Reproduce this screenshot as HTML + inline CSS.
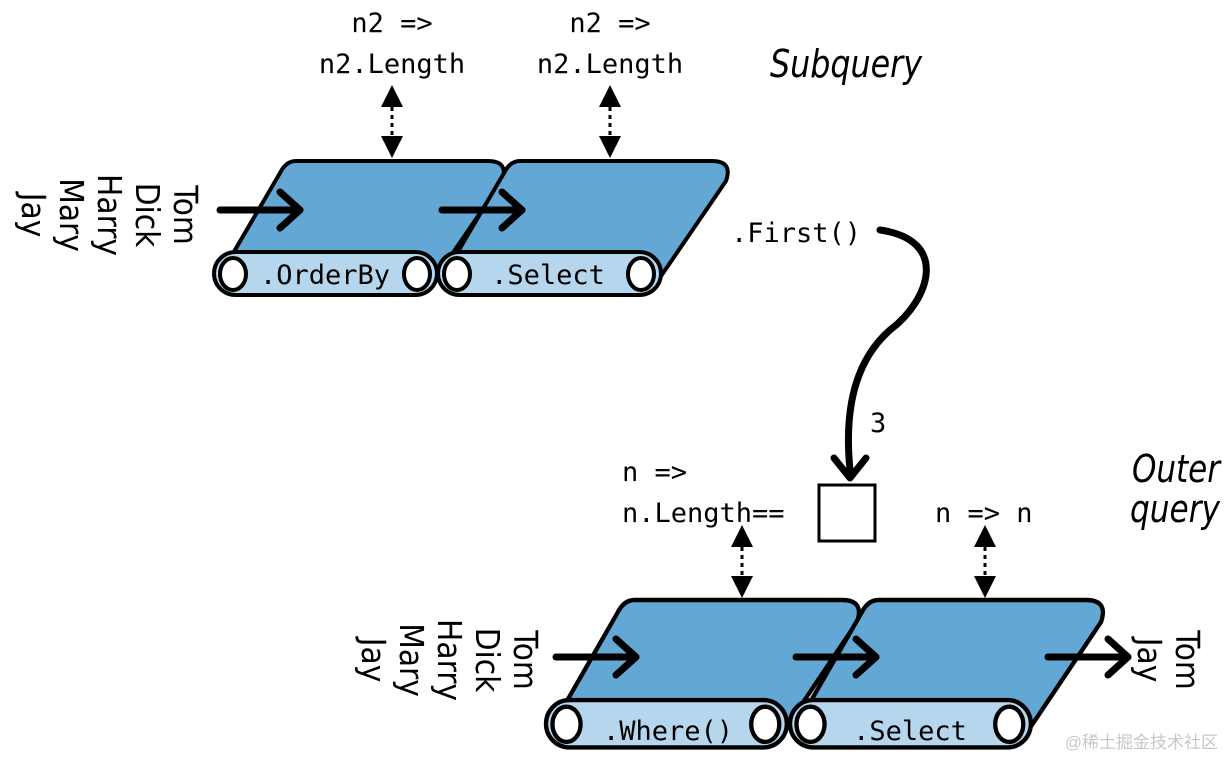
<!DOCTYPE html>
<html><head><meta charset="utf-8"><style>
html,body{margin:0;padding:0;background:#fff;width:1224px;height:757px;overflow:hidden}
.m{font-family:"DejaVu Sans Mono","Liberation Mono",monospace;font-size:27px}
.n{font-family:"DejaVu Sans Condensed","Liberation Sans Narrow","Liberation Sans",sans-serif;font-size:33px}
.i{font-family:"DejaVu Sans Condensed","Liberation Sans",sans-serif;font-style:italic;font-size:38px}
</style></head><body>
<svg width="1224" height="757" viewBox="0 0 1224 757" xmlns="http://www.w3.org/2000/svg">
<defs>
<g id="conv">
<path d="M82,0 H274 Q295,0 288,20 L221,118 L4,118 L66,12 Q72,0 82,0 Z" fill="#63a7d4" stroke="#000" stroke-width="4" stroke-linejoin="round"/>
<rect x="0" y="91" width="223" height="43" rx="21.5" fill="#b5d6ec" stroke="#000" stroke-width="4"/>
<ellipse cx="19" cy="113" rx="13" ry="16" fill="#fff" stroke="#000" stroke-width="4"/>
<ellipse cx="203" cy="113" rx="13" ry="16" fill="#fff" stroke="#000" stroke-width="4"/>
</g>
<g id="arr">
<line x1="0" y1="0" x2="80" y2="0" stroke="#000" stroke-width="7" stroke-linecap="round"/>
<polyline points="60,-18 80,0 60,18" fill="none" stroke="#000" stroke-width="7" stroke-linecap="round" stroke-linejoin="round"/>
</g>
<g id="dbl">
<polygon points="0,0 -11,22 11,22" fill="#000"/>
<line x1="0" y1="22" x2="0" y2="52" stroke="#000" stroke-width="3" stroke-dasharray="4,4"/>
<polygon points="0,73 -11,51 11,51" fill="#000"/>
</g>
</defs>

<use href="#conv" transform="translate(214,161)"/>
<use href="#conv" transform="translate(438,161)"/>
<text class="m" x="325" y="284" text-anchor="middle">.OrderBy</text>
<text class="m" x="548" y="284" text-anchor="middle">.Select</text>
<use href="#arr" transform="translate(220,210)"/>
<use href="#arr" transform="translate(442,210)"/>
<use href="#dbl" transform="translate(392,85)"/>
<use href="#dbl" transform="translate(610,85)"/>
<text class="m" x="392" y="32" text-anchor="middle">n2 =&gt;</text>
<text class="m" x="392" y="73" text-anchor="middle">n2.Length</text>
<text class="m" x="610" y="32" text-anchor="middle">n2 =&gt;</text>
<text class="m" x="610" y="73" text-anchor="middle">n2.Length</text>
<text class="i" x="770" y="77" textLength="152" lengthAdjust="spacingAndGlyphs">Subquery</text>

<g class="n">
<text transform="translate(174,215) rotate(90)" text-anchor="middle">Tom</text>
<text transform="translate(136,215) rotate(90)" text-anchor="middle">Dick</text>
<text transform="translate(98,215) rotate(90)" text-anchor="middle">Harry</text>
<text transform="translate(60,215) rotate(90)" text-anchor="middle">Mary</text>
<text transform="translate(22,215) rotate(90)" text-anchor="middle">Jay</text>
</g>

<text class="m" x="731" y="242">.First()</text>
<path d="M880,230 C950,240 930,300 890,330 C850,365 845,420 850,470" fill="none" stroke="#000" stroke-width="7" stroke-linecap="round"/>
<polyline points="834,458 850,478 866,458" fill="none" stroke="#000" stroke-width="7" stroke-linecap="round" stroke-linejoin="round"/>
<text class="m" x="870" y="432">3</text>
<rect x="819" y="485" width="56" height="56" fill="#fff" stroke="#000" stroke-width="3"/>
<text class="m" x="622" y="481">n =&gt;</text>
<text class="m" x="622" y="522">n.Length==</text>
<text class="m" x="935" y="522">n =&gt; n</text>
<text class="i" x="1220" y="482" text-anchor="end" textLength="88" lengthAdjust="spacingAndGlyphs">Outer</text>
<text class="i" x="1220" y="522" text-anchor="end" textLength="90" lengthAdjust="spacingAndGlyphs">query</text>

<use href="#conv" transform="translate(546,600) scale(1.08,1.1)"/>
<use href="#conv" transform="translate(790,600) scale(1.08,1.1)"/>
<text class="m" x="668" y="740" text-anchor="middle">.Where()</text>
<text class="m" x="910" y="740" text-anchor="middle">.Select</text>
<use href="#arr" transform="translate(556,657)"/>
<use href="#arr" transform="translate(796,657)"/>
<use href="#arr" transform="translate(1048,657)"/>
<use href="#dbl" transform="translate(742,525)"/>
<use href="#dbl" transform="translate(985,525)"/>

<g class="n">
<text transform="translate(514,660) rotate(90)" text-anchor="middle">Tom</text>
<text transform="translate(476,660) rotate(90)" text-anchor="middle">Dick</text>
<text transform="translate(438,660) rotate(90)" text-anchor="middle">Harry</text>
<text transform="translate(400,660) rotate(90)" text-anchor="middle">Mary</text>
<text transform="translate(362,660) rotate(90)" text-anchor="middle">Jay</text>
<text transform="translate(1176,660) rotate(90)" text-anchor="middle">Tom</text>
<text transform="translate(1138,660) rotate(90)" text-anchor="middle">Jay</text>
</g>
<text x="1218" y="748" text-anchor="end" fill="#c8c8c8" style="font-family:'Liberation Sans','Noto Sans CJK SC',sans-serif;font-size:17px">@稀土掘金技术社区</text>
</svg>
</body></html>
